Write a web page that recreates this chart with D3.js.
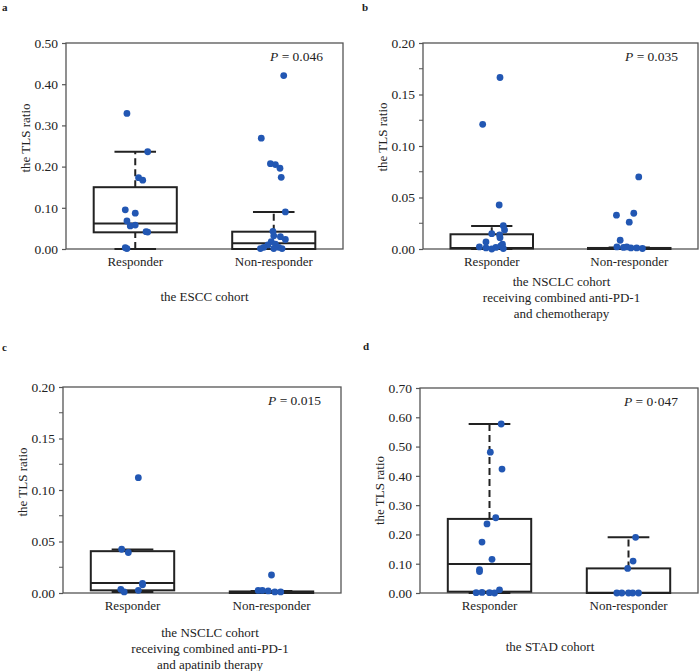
<!DOCTYPE html>
<html>
<head>
<meta charset="utf-8">
<script src="https://cdn.jsdelivr.net/npm/d3@7"></script>
<style>
  body { margin: 0; background: #fff; }
  svg text { font-family: "Liberation Serif", "Times New Roman", serif; fill: #222; }
</style>
</head>
<body>
<div id="chart"></div>
<script>
// ---------- data ----------
const groups = ["Responder", "Non-responder"];

// box stats: [lower whisker, Q1, median, Q3, upper whisker]
const escR = [0.329, 0.236, 0.173, 0.167, 0.095, 0.087, 0.068, 0.056, 0.058, 0.042, 0.041, 0.003, 0.001];
const escRJit = [-0.10, 0.15, 0.04, 0.09, -0.12, 0, -0.10, -0.06, 0, 0.13, 0.15, -0.12, -0.10];
const escN = [0.421, 0.269, 0.207, 0.205, 0.196, 0.174, 0.090, 0.043, 0.032, 0.030, 0.023, 0.018, 0.012, 0.010, 0.004, 0.004, 0.001, 0.001, 0.001];
const escNJit = [0.12, -0.15, -0.04, 0.02, 0.075, 0.09, 0.14, -0.01, 0, 0.08, 0.14, -0.03, 0.02, -0.07, -0.12, 0.06, -0.16, 0, 0.10];
const escRBox = [0, 0.0405, 0.062, 0.150, 0.236];
const escNBox = [0, 0, 0.014, 0.042, 0.090];

const chemoR = [0.1665, 0.121, 0.0427, 0.0226, 0.0185, 0.0149, 0.0136, 0.011, 0.0068, 0.0046, 0.002, 0.001, 0.0015, 0.003, 0, 0.0005];
const chemoRJit = [0.10, -0.11, 0.09, 0.14, 0.155, 0, 0.095, 0.10, -0.07, 0.13, -0.15, -0.07, 0.05, 0.11, 0, 0.14];
const chemoN = [0.070, 0.0347, 0.0328, 0.026, 0.0085, 0.002, 0.0015, 0.001, 0.001, 0.0005, 0.002];
const chemoNJit = [0.115, 0.055, -0.155, 0, -0.11, -0.15, -0.07, 0.02, 0.09, 0.16, -0.03];
const chemoRBox = [0, 0.0005, 0.001, 0.0143, 0.0224];
const chemoNBox = [0, 0, 0.0005, 0.001, 0.0015];

const apaR = [0.112, 0.0425, 0.0393, 0.0094, 0.0080, 0.0036, 0.0026, 0.001];
const apaRJit = [0.07, -0.13, -0.05, 0.12, 0.12, -0.14, 0.07, -0.10];
const apaN = [0.0175, 0.0025, 0.0025, 0.002, 0.001, 0.001];
const apaNJit = [0, -0.16, -0.11, -0.04, 0.04, 0.11];
const apaRBox = [0.001, 0.0026, 0.0097, 0.0406, 0.0422];
const apaNBox = [0, 0, 0.001, 0.0015, 0.002];

const stadR = [0.577, 0.481, 0.423, 0.257, 0.236, 0.174, 0.115, 0.080, 0.073, 0.011, 0.001, 0.002, 0.001, 0];
const stadRJit = [0.14, 0.01, 0.15, 0.075, -0.03, -0.09, 0.03, -0.12, -0.12, 0.12, -0.16, -0.09, 0, 0.06];
const stadN = [0.190, 0.109, 0.084, 0, 0, 0, 0, 0];
const stadNJit = [0.085, 0.055, -0.01, -0.14, -0.08, 0, 0.05, 0.12];
const stadRBox = [0, 0.0045, 0.099, 0.253, 0.577];
const stadNBox = [0, 0, 0.001, 0.084, 0.190];

const ticksA = [0, 0.1, 0.2, 0.3, 0.4, 0.5];
const ticksB = [0, 0.05, 0.1, 0.15, 0.2];
const minorB = [0.025, 0.075, 0.125, 0.175];
const ticksD = [0, 0.1, 0.2, 0.3, 0.4, 0.5, 0.6, 0.7];

const pValues = ["0.046", "0.035", "0.015", "0\u00b7047"];
const captions = [
  ["the ESCC cohort"],
  ["the NSCLC cohort", "receiving combined anti-PD-1", "and chemotherapy"],
  ["the NSCLC cohort", "receiving combined anti-PD-1", "and apatinib therapy"],
  ["the STAD cohort"]
];

// ---------- layout ----------
const panels = [
  {letter: "a", lx: 2, ly: 11, left: 66, top: 43, w: 277, h: 206, ymax: 0.5, ticks: ticksA, minor: [],
   series: [[escR, escRJit, escRBox], [escN, escNJit, escNBox]], p: pValues[0], cap: captions[0], capDy: 52, capDx: 0, titleDy: -8},
  {letter: "b", lx: 362, ly: 11, left: 423, top: 43, w: 275, h: 206, ymax: 0.2, ticks: ticksB, minor: minorB,
   series: [[chemoR, chemoRJit, chemoRBox], [chemoN, chemoNJit, chemoNBox]], p: pValues[1], cap: captions[1], capDy: 37, capDx: 1, titleDy: -9},
  {letter: "c", lx: 2, ly: 351, left: 63, top: 387, w: 278, h: 206, ymax: 0.2, ticks: ticksB, minor: minorB,
   series: [[apaR, apaRJit, apaRBox], [apaN, apaNJit, apaNBox]], p: pValues[2], cap: captions[2], capDy: 44, capDx: 8, titleDy: -8},
  {letter: "d", lx: 363, ly: 350, left: 420, top: 388, w: 278, h: 205, ymax: 0.7, ticks: ticksD, minor: [],
   series: [[stadR, stadRJit, stadRBox], [stadN, stadNJit, stadNBox]], p: pValues[3], cap: captions[3], capDy: 58, capDx: -9, titleDy: 0}
];

const dotColor = "#2257b3";
const boxColor = "#222";
const axisColor = "#555";

const svg = d3.select("#chart").append("svg")
    .attr("width", 700)
    .attr("height", 671);

panels.forEach(pn => {
  // panel letter
  svg.append("text")
      .attr("x", pn.lx)
      .attr("y", pn.ly)
      .attr("font-size", 11)
      .attr("font-weight", "bold")
      .text(pn.letter);

  const g = svg.append("g").attr("transform", `translate(${pn.left},${pn.top})`);

  const x = d3.scalePoint().domain(groups).range([0, pn.w]).padding(0.5);
  const y = d3.scaleLinear().domain([0, pn.ymax]).range([pn.h, 0]);
  const bw = pn.w * 0.3;

  // frame
  g.append("rect")
      .attr("width", pn.w)
      .attr("height", pn.h)
      .attr("fill", "none")
      .attr("stroke", axisColor)
      .attr("stroke-width", 1.3);

  // y axis
  const yAxis = g.append("g")
      .call(d3.axisLeft(y).tickValues(pn.ticks).tickFormat(d3.format(".2f")).tickSize(4).tickPadding(4));
  yAxis.select(".domain").remove();
  yAxis.selectAll(".tick line").attr("stroke", axisColor).attr("stroke-width", 1.2);
  yAxis.selectAll(".tick text").attr("font-size", 13.5).attr("fill", "#222")
      .attr("font-family", "Liberation Serif, Times New Roman, serif");

  if (pn.minor.length) {
    g.selectAll(".minor")
        .data(pn.minor)
        .enter().append("line")
        .attr("x1", -4).attr("x2", 0)
        .attr("y1", d => y(d)).attr("y2", d => y(d))
        .attr("stroke", axisColor)
        .attr("stroke-width", 1);
  }

  // x category labels
  g.selectAll(".cat")
      .data(groups)
      .enter().append("text")
      .attr("x", d => x(d))
      .attr("y", pn.h + 17)
      .attr("text-anchor", "middle")
      .attr("font-size", 13)
      .text(d => d);

  // y title
  g.append("text")
      .attr("transform", `translate(-41,${pn.h / 2 + pn.titleDy}) rotate(-90)`)
      .attr("text-anchor", "middle")
      .attr("dominant-baseline", "central")
      .attr("font-size", 13)
      .text("the TLS ratio");

  // boxes & whiskers
  pn.series.forEach((s, i) => {
    const cx = x(groups[i]);
    const [lo, q1, med, q3, hi] = s[2];
    const bg = g.append("g");
    if (hi > q3) {
      bg.append("line")
          .attr("x1", cx).attr("x2", cx)
          .attr("y1", y(q3)).attr("y2", y(hi))
          .attr("stroke", boxColor).attr("stroke-width", 2)
          .attr("stroke-dasharray", "7,4");
    }
    if (q1 > lo) {
      bg.append("line")
          .attr("x1", cx).attr("x2", cx)
          .attr("y1", y(lo)).attr("y2", y(q1))
          .attr("stroke", boxColor).attr("stroke-width", 2)
          .attr("stroke-dasharray", "7,4");
    }
    [lo, hi].forEach(v => {
      bg.append("line")
          .attr("x1", cx - bw / 4).attr("x2", cx + bw / 4)
          .attr("y1", y(v)).attr("y2", y(v))
          .attr("stroke", boxColor).attr("stroke-width", 2);
    });
    bg.append("rect")
        .attr("x", cx - bw / 2)
        .attr("y", y(q3))
        .attr("width", bw)
        .attr("height", Math.max(0, y(q1) - y(q3)))
        .attr("fill", "none")
        .attr("stroke", boxColor)
        .attr("stroke-width", 2);
    bg.append("line")
        .attr("x1", cx - bw / 2).attr("x2", cx + bw / 2)
        .attr("y1", y(med)).attr("y2", y(med))
        .attr("stroke", boxColor).attr("stroke-width", 2);
  });

  // dots
  pn.series.forEach((s, i) => {
    const cx = x(groups[i]);
    g.append("g").selectAll("circle")
        .data(s[0].map((v, k) => ({v, j: s[1][k]})))
        .enter().append("circle")
        .attr("cx", d => cx + d.j * bw)
        .attr("cy", d => y(d.v))
        .attr("r", 3.4)
        .attr("fill", dotColor);
  });

  // P value
  const pt = g.append("text")
      .attr("x", pn.w - 20)
      .attr("y", 18)
      .attr("text-anchor", "end")
      .attr("font-size", 13.5);
  pt.append("tspan").attr("font-style", "italic").text("P");
  pt.append("tspan").text(" = " + pn.p);

  // caption
  g.selectAll(".cap")
      .data(pn.cap)
      .enter().append("text")
      .attr("x", pn.w / 2 + pn.capDx)
      .attr("y", (d, k) => pn.h + pn.capDy + k * 15.8)
      .attr("text-anchor", "middle")
      .attr("font-size", 13)
      .text(d => d);
});
</script>
</body>
</html>
